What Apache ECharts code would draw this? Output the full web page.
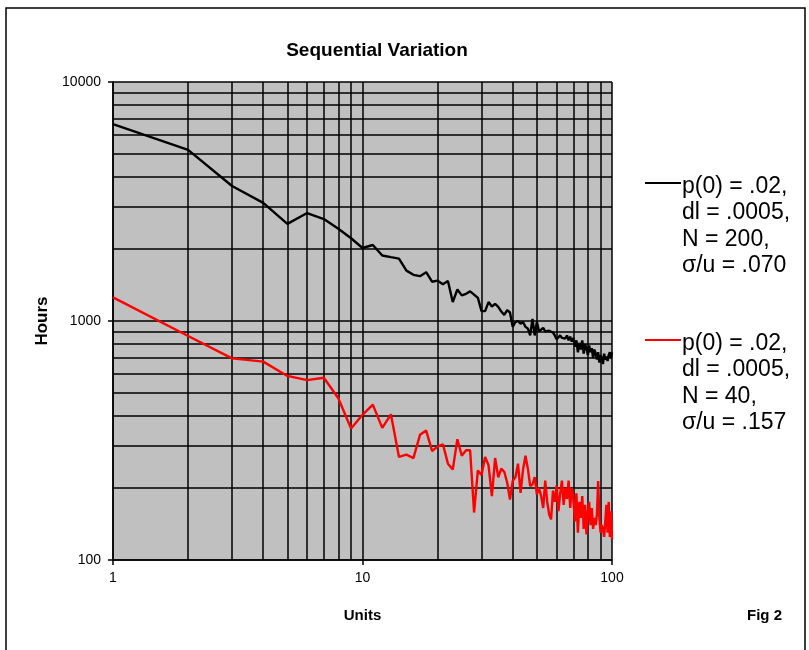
<!DOCTYPE html>
<html>
<head>
<meta charset="utf-8">
<script src="https://cdn.jsdelivr.net/npm/echarts@6/dist/echarts.min.js"></script>
<style>html,body{margin:0;padding:0;background:#fff}#c{width:809px;height:650px}</style>
</head>
<body>
<div id="c"></div>
<script>
var units = [1,2,3,4,5,6,7,8,9,10,11,12,13,14,15,16,17,18,19,20,21,22,23,24,25,26,27,28,29,30,31,32,33,34,35,36,37,38,39,40,41,42,43,44,45,46,47,48,49,50,51,52,53,54,55,56,57,58,59,60,61,62,63,64,65,66,67,68,69,70,71,72,73,74,75,76,77,78,79,80,81,82,83,84,85,86,87,88,89,90,91,92,93,94,95,96,97,98,99,100];
var hoursN200 = [6670,5200,3670,3120,2550,2830,2670,2430,2220,2020,2080,1880,1850,1825,1625,1560,1540,1600,1460,1475,1425,1470,1200,1355,1280,1300,1330,1290,1250,1100,1100,1200,1150,1180,1145,1095,1060,1110,1085,945,990,1000,975,990,945,930,870,1020,870,990,905,920,935,905,900,910,900,895,870,840,830,870,850,860,845,870,830,860,820,850,780,830,740,810,760,830,730,800,770,720,790,740,770,700,760,730,690,740,670,720,700,660,730,690,710,680,720,740,700,740];
var hoursN40 = [1256,865,698,676,589,566,579,475,355,405,447,357,407,270,276,267,334,348,286,298,305,253,239,320,273,288,288,158,237,227,270,249,185,267,222,241,234,211,179,214,222,253,191,239,273,241,204,207,222,188,200,185,165,215,175,155,148,195,175,205,160,190,215,170,200,180,215,165,200,180,145,190,130,175,150,185,135,170,128,160,175,140,165,135,150,140,155,214,150,130,140,135,125,145,170,130,175,125,160,122];
var xMinorGrid = [2,3,4,5,6,7,8,9,20,30,40,50,60,70,80,90];
var yMinorGrid = [200,300,400,500,600,700,800,900,2000,3000,4000,5000,6000,7000,8000,9000];
var legendBlack = ['p(0) = .02,','dl = .0005,','N = 200,','σ/u = .070'];
var legendRed = ['p(0) = .02,','dl = .0005,','N = 40,','σ/u = .157'];

function pairs(xs, ys){ return xs.map(function(x,i){ return [x, ys[i]]; }); }
var FONT = '"Liberation Sans", Arial, sans-serif';
var chart = echarts.init(document.getElementById('c'), null, {renderer:'canvas'});
var gridLines = [];
xMinorGrid.forEach(function(v){ gridLines.push({xAxis:v}); });
yMinorGrid.forEach(function(v){ gridLines.push({yAxis:v}); });

chart.setOption({
  animation:false,
  backgroundColor:'#ffffff',
  title:{text:'Sequential Variation', left:372, top:36, textAlign:'center',
    textStyle:{fontFamily:FONT, fontSize:19, fontWeight:'bold', color:'#000'}},
  grid:{left:113, right:197, top:82, bottom:90, show:true, backgroundColor:'#c0c0c0', borderWidth:0},
  xAxis:{type:'log', logBase:10, min:1, max:100,
    name:'Units', nameLocation:'middle', nameGap:48,
    nameTextStyle:{fontFamily:FONT, fontSize:15, fontWeight:'bold', color:'#000'},
    axisLine:{show:true, lineStyle:{color:'#000', width:1.5}},
    axisTick:{show:true, length:5, lineStyle:{color:'#000', width:1.5}},
    axisLabel:{fontFamily:FONT, fontSize:14, color:'#000', margin:11,
      formatter:function(v){ return String(Math.round(v)); }},
    splitLine:{show:true, lineStyle:{color:'#000', width:1.5}},
    minorTick:{show:false}, minorSplitLine:{show:false}},
  yAxis:{type:'log', logBase:10, min:100, max:10000,
    name:'Hours', nameLocation:'middle', nameGap:59, nameRotate:90,
    nameTextStyle:{fontFamily:FONT, fontSize:17, fontWeight:'bold', color:'#000'},
    axisLine:{show:true, lineStyle:{color:'#000', width:1.5}},
    axisTick:{show:true, length:5, lineStyle:{color:'#000', width:1.5}},
    axisLabel:{fontFamily:FONT, fontSize:14, color:'#000', margin:12,
      formatter:function(v){ return String(Math.round(v)); }},
    splitLine:{show:true, lineStyle:{color:'#000', width:1.5}}},
  series:[
    {type:'line', name:'grid', data:[], z:1, silent:true,
      markLine:{silent:true, symbol:['none','none'], label:{show:false},
        lineStyle:{color:'#000', type:'solid', width:1.5}, emphasis:{disabled:true}, data:gridLines}},
    {type:'line', name:'N = 200', data:pairs(units, hoursN200), showSymbol:false, z:5,
      lineStyle:{color:'#000', width:2.4}, itemStyle:{color:'#000'}},
    {type:'line', name:'N = 40', data:pairs(units, hoursN40), showSymbol:false, z:5,
      lineStyle:{color:'#ff0000', width:2.4}, itemStyle:{color:'#ff0000'}}
  ],
  graphic:[
    {type:'rect', shape:{x:6, y:8, width:799, height:660}, style:{fill:'none', stroke:'#000', lineWidth:1.5}, silent:true},
    {type:'line', shape:{x1:645, y1:183, x2:681, y2:183}, style:{stroke:'#000', lineWidth:2}},
    {type:'text', left:682, top:173, style:{text:legendBlack.join('\n'), font:'23px '+FONT, fill:'#000', lineHeight:26.5}},
    {type:'line', shape:{x1:645, y1:340, x2:681, y2:340}, style:{stroke:'#ff0000', lineWidth:2}},
    {type:'text', left:682, top:330, style:{text:legendRed.join('\n'), font:'23px '+FONT, fill:'#000', lineHeight:26.5}},
    {type:'text', left:747, top:608, style:{text:'Fig 2', font:'bold 15px '+FONT, fill:'#000'}}
  ]
});
</script>
</body>
</html>
